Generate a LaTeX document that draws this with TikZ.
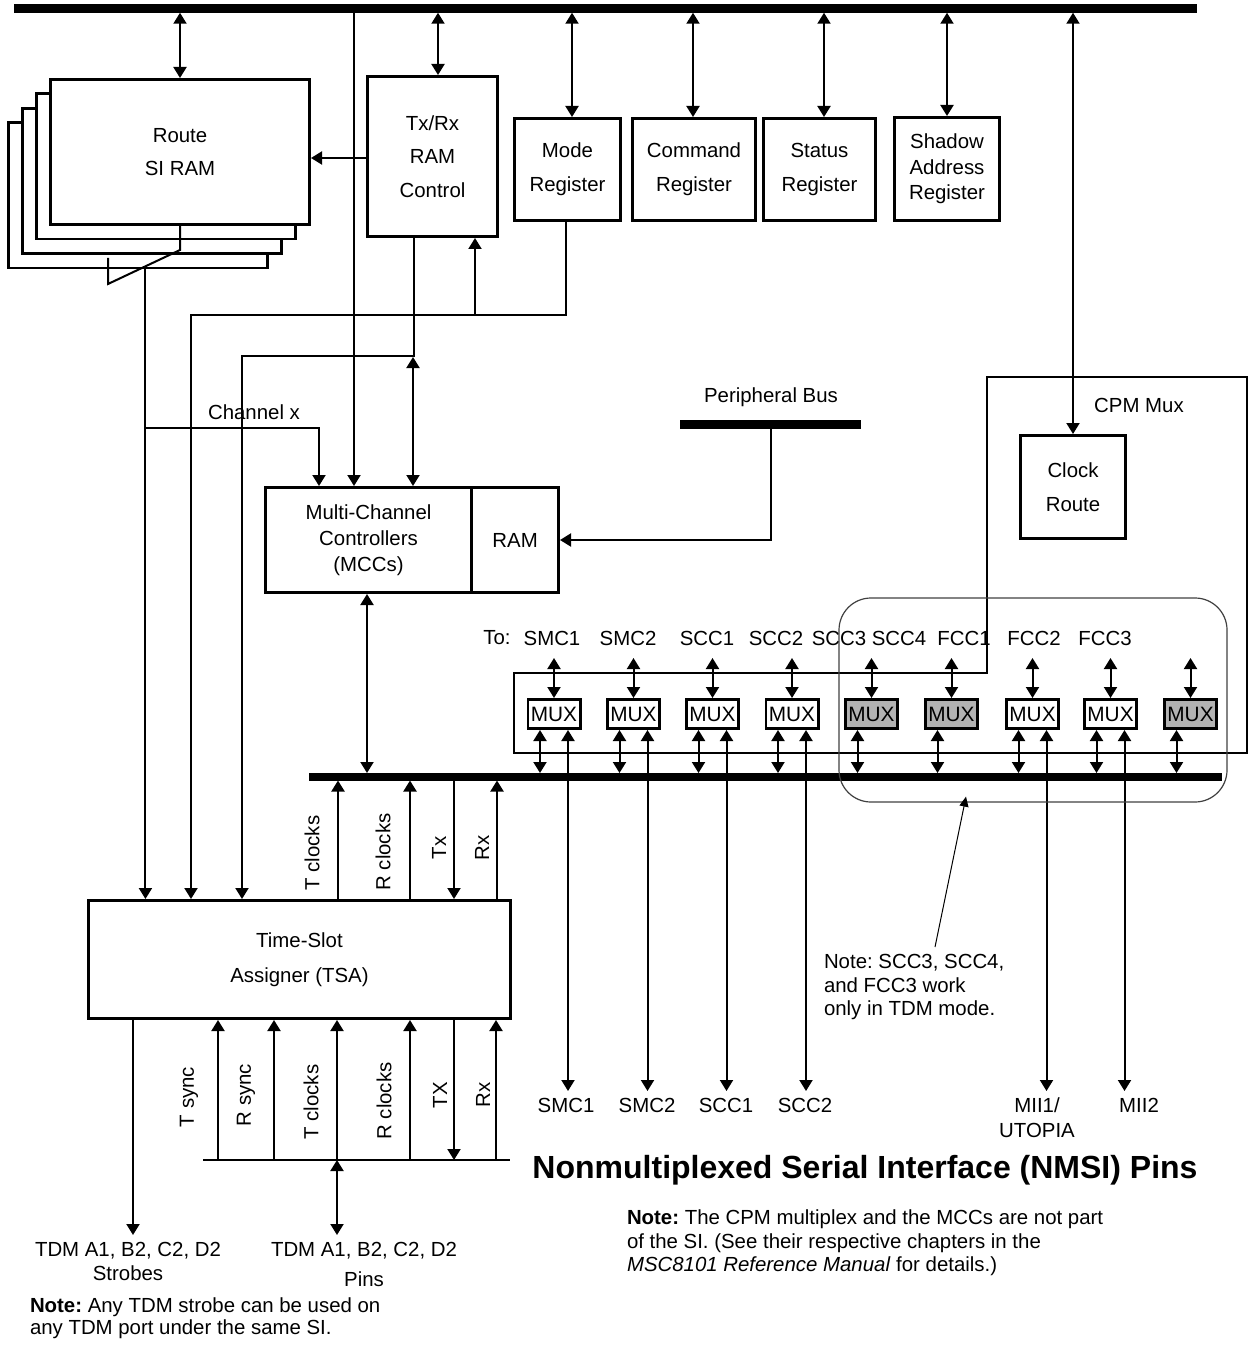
\documentclass[tikz,border=0pt]{standalone}
\usepackage{fontspec}
\setmainfont{Liberation Sans}
\usetikzlibrary{arrows.meta,calc}
\frenchspacing
\begin{document}
\begin{tikzpicture}[x=0.5pt,y=-0.5pt,line width=1pt,
  >={Triangle[length=5.5pt,width=6.5pt]},
  every node/.style={font=\fontsize{10.2}{17}\selectfont, inner sep=0pt},
  box/.style={draw, line width=1.4pt, fill=white, align=center},
  muxbox/.style={draw, line width=1.4pt, minimum width=26.1pt, minimum height=14.6pt, font=\fontsize{10.4}{12}\selectfont},
  bar/.style={fill=black, inner sep=0pt, outer sep=0pt},
  vlbl/.style={rotate=90},
  note/.style={align=left, font=\fontsize{10.2}{11.75}\selectfont},
]
\useasboundingbox (0,0) rectangle (1249,1358);

% ---------- buses ----------
\node[bar, minimum width=591.5pt, minimum height=4.25pt] (topbus) at (605.5,8.5) {};
\node[bar, minimum width=456.5pt, minimum height=3.75pt] (lowbus) at (765.5,776.75) {};
\node[bar, minimum width=90.5pt, minimum height=4.5pt] (pbus) at (770.5,424.5) {};
\node (pbuslbl) at (771,397) {Peripheral Bus};

% ---------- Route SI RAM stack ----------
\foreach \k in {3,2,1} {
  \node[box, minimum width=129.6pt, minimum height=72.6pt] (routeb\k) at ({180-14*\k},{152+14.5*\k}) {};
}
\node[box, minimum width=129.6pt, minimum height=72.6pt, font=\fontsize{10.2}{16.5}\selectfont] (route) at (180,152) {Route\\SI RAM};

% ---------- Tx/Rx RAM control and registers ----------
\node[box, minimum width=65.1pt, minimum height=80.1pt, font=\fontsize{10.2}{16.75}\selectfont] (txrx) at (432.5,156.5) {Tx/Rx\\RAM\\Control};
\node[box, minimum width=53.1pt, minimum height=51.1pt] (mode) at (567.5,169.5) {Mode\\Register};
\node[box, minimum width=61.6pt, minimum height=51.1pt] (command) at (694,169.5) {Command\\Register};
\node[box, minimum width=56.1pt, minimum height=51.1pt] (status) at (819.5,169.5) {Status\\Register};
\node[box, minimum width=52.6pt, minimum height=51.6pt, font=\fontsize{10.2}{12.75}\selectfont] (shadow) at (947,169) {Shadow\\Address\\Register};

% ---------- MCC ----------
\node[box, minimum width=103.1pt, minimum height=52.6pt, font=\fontsize{10.2}{13}\selectfont] (mccl) at (368.5,540) {Multi-Channel\\Controllers\\(MCCs)};
\node[box, minimum width=43.5pt, minimum height=52.6pt] (mccram) at (515.1,540) {RAM};

% ---------- TSA ----------
\node[box, minimum width=211.1pt, minimum height=59.1pt, font=\fontsize{10.2}{17.5}\selectfont] (tsa) at (299.5,959.5) {Time-Slot\\Assigner (TSA)};

% ---------- CPM Mux ----------
\draw (514,673) -- (987,673) -- (987,377) -- (1247,377) -- (1247,753) -- (514,753) -- cycle;
\node (cpmlbl) at (1139,405) {CPM Mux};
\node[box, minimum width=52.6pt, minimum height=51.6pt] (clock) at (1073,487) {Clock\\Route};

% ---------- helper coordinates ----------
\coordinate (xtxrx) at (438,0);
\coordinate (xmode) at (572,0);
\coordinate (xcmd) at (693,0);
\coordinate (xstat) at (824,0);
\coordinate (x354) at (354,0);
\coordinate (y158) at (0,158);
\coordinate (ych) at (0,428);
\coordinate (pinrow) at (0,1091);

% ---------- top bus connections ----------
\draw[<->] (route.north |- topbus.south) -- (route.north);
\draw[<->] (xtxrx |- topbus.south) -- (xtxrx |- txrx.north);
\draw[<->] (xmode |- topbus.south) -- (xmode |- mode.north);
\draw[<->] (xcmd |- topbus.south) -- (xcmd |- command.north);
\draw[<->] (xstat |- topbus.south) -- (xstat |- status.north);
\draw[<->] (shadow.north |- topbus.south) -- (shadow.north);
\draw[<->] (clock.north |- topbus.south) -- (clock.north);
\draw[->] (x354 |- topbus.south) -- (x354 |- mccl.north);

% Tx/Rx -> Route
\draw[->] (txrx.west |- y158) -- (route.east |- y158);

% funnel below route stack
\coordinate (f1) at (180,250);
\coordinate (f2) at (108,284);
\coordinate (f3) at (108,258);
\draw (route.south) -- (f1) -- (f2) -- (f3);
\coordinate (f4) at ($(f1)!0.48!(f2)$);
\draw[->] (f4) -- (f4 |- tsa.north);

% Channel x
\coordinate (chA) at (f4 |- ych);
\coordinate (chB) at (319,428);
\draw[->] (chA) -- (chB) -- (chB |- mccl.north);
\node (chlbl) at (254,412) {Channel x};

% Tx/Rx control line to TSA
\coordinate (x414) at (414,0);
\coordinate (c1) at (414,356);
\coordinate (c2) at (242,356);
\draw[->] (x414 |- txrx.south) -- (c1) -- (c2) -- (c2 |- tsa.north);
\coordinate (c3) at (413,357);
\draw[<->] (c3) -- (c3 |- mccl.north);

% Mode register line
\coordinate (m1) at (566,315);
\coordinate (m2) at (191,315);
\coordinate (m3) at (475,315);
\draw[->] (m1 |- mode.south) -- (m1) -- (m2) -- (m2 |- tsa.north);
\draw[->] (m3) -- (m3 |- txrx.south);

% Peripheral bus to RAM
\draw[->] (pbus.south) |- (mccram.east);

% MCC to lower bus
\coordinate (x367) at (367,0);
\draw[<->] (x367 |- mccl.south) -- (x367 |- lowbus.north);

% ---------- MUXes ----------
\foreach \i/\cx/\f in {1/554/white,2/633.5/white,3/712.5/white,4/792/white,5/871.5/black!30,6/951.5/black!30,7/1032.5/white,8/1110.5/white,9/1190.5/black!30} {
  \node[muxbox, fill=\f] (mux\i) at (\cx,714) {MUX};
  \coordinate (mt\i) at (\cx,658);
  \draw[<->] (mt\i) -- (mux\i.north);
  \coordinate (mb\i) at ($(mux\i.south)+(-14,0)$);
  \draw[<->] (mb\i) -- (mb\i |- lowbus.north);
}
\foreach \i in {1,2,3,4,7,8} {
  \coordinate (mo\i) at ($(mux\i.south)+(14,0)$);
  \draw[<->] (mo\i) -- (mo\i |- pinrow);
}

% To: labels
\node (to0) at (497,638) {To:};
\node (to1) at (552,638) {SMC1};
\node (to2) at (628,638) {SMC2};
\node (to3) at (707,638) {SCC1};
\node (to4) at (776,638) {SCC2};
\node (to5) at (839,638) {SCC3};
\node (to6) at (899,638) {SCC4};
\node (to7) at (964,638) {FCC1};
\node (to8) at (1034,638) {FCC2};
\node (to9) at (1105,638) {FCC3};

% NMSI pin labels
\node (p1) at (566,1105) {SMC1};
\node (p2) at (647,1105) {SMC2};
\node (p3) at (726,1105) {SCC1};
\node (p4) at (805,1105) {SCC2};
\node[align=center, font=\fontsize{10.2}{12.5}\selectfont] (p7) at (1037,1117.5) {MII1/\\UTOPIA};
\node (p8) at (1139,1105) {MII2};

% rounded group and note
\node[draw=black!75, line width=0.6pt, rounded corners=16pt, minimum width=194pt, minimum height=102pt] (tdmgrp) at (1033,700) {};
\coordinate (np) at (935,947);
\coordinate (nt) at ($(tdmgrp.south)+(-67,-6)$);
\draw[line width=0.5pt, -{Triangle[length=5pt,width=4.5pt]}] (np) -- (nt);
\node[note, anchor=west] (note3) at (823,987) {Note: SCC3, SCC4,\\and FCC3 work\\only in TDM mode.};

% ---------- lower bus <-> TSA ----------
\coordinate (xtc) at (338,0);
\coordinate (xrc) at (410,0);
\coordinate (xtx) at (454,0);
\coordinate (xrx) at (497,0);
\draw[->] (xtc |- tsa.north) -- (xtc |- lowbus.south);
\draw[->] (xrc |- tsa.north) -- (xrc |- lowbus.south);
\draw[->] (xtx |- lowbus.south) -- (xtx |- tsa.north);
\draw[->] (xrx |- tsa.north) -- (xrx |- lowbus.south);
\node[vlbl] (lt1) at (312,853) {T clocks};
\node[vlbl] (lt2) at (383,852) {R clocks};
\node[vlbl] (lt3) at (439,848) {Tx};
\node[vlbl] (lt4) at (482,848) {Rx};

% ---------- TSA bottom ----------
\coordinate (pl) at (203,1160);
\coordinate (pr) at (510,1160);
\draw (pl) -- (pr);
\coordinate (xs) at (133,0);
\coordinate (strobeend) at (133,1235);
\draw[->] (xs |- tsa.south) -- (strobeend);
\coordinate (bts) at (218,1160);
\coordinate (brs) at (274,1160);
\coordinate (btc) at (337,1160);
\coordinate (brc) at (410,1160);
\coordinate (btx) at (454,1160);
\coordinate (brx) at (496,1160);
\draw[->] (bts) -- (bts |- tsa.south);
\draw[->] (brs) -- (brs |- tsa.south);
\draw[->] (btc) -- (btc |- tsa.south);
\draw[->] (brc) -- (brc |- tsa.south);
\draw[->] (btx |- tsa.south) -- (btx);
\draw[->] (brx) -- (brx |- tsa.south);
\coordinate (pinsend) at (337,1235);
\draw[<->] (btc) -- (pinsend);
\node[vlbl] (lb1) at (189,1097) {T sync};
\node[vlbl] (lb2) at (246,1095) {R sync};
\node[vlbl] (lb3) at (311,1102) {T clocks};
\node[vlbl] (lb4) at (384,1101) {R clocks};
\node[vlbl] (lb5) at (440,1095) {TX};
\node[vlbl] (lb6) at (483,1095) {Rx};

\node[align=center, font=\fontsize{10.2}{12}\selectfont] (strobelbl) at (128,1261) {TDM A1, B2, C2, D2\\Strobes};
\node[align=center, font=\fontsize{10.2}{15}\selectfont] (pinslbl) at (364,1264) {TDM A1, B2, C2, D2\\Pins};
\node[note, anchor=west, font=\fontsize{10.2}{11}\selectfont] (note1) at (29,1318) {\textbf{Note:} Any TDM strobe can be used on\\any TDM port under the same SI.};

% ---------- title and note ----------
\node[font=\fontsize{16}{19}\selectfont\bfseries] (nmsi) at (865,1170) {Nonmultiplexed Serial Interface (NMSI) Pins};
\node[note, anchor=west] (note2) at (626,1243) {\textbf{Note:} The CPM multiplex and the MCCs are not part\\of the SI. (See their respective chapters in the\\\textit{MSC8101 Reference Manual} for details.)};
\end{tikzpicture}
\end{document}
